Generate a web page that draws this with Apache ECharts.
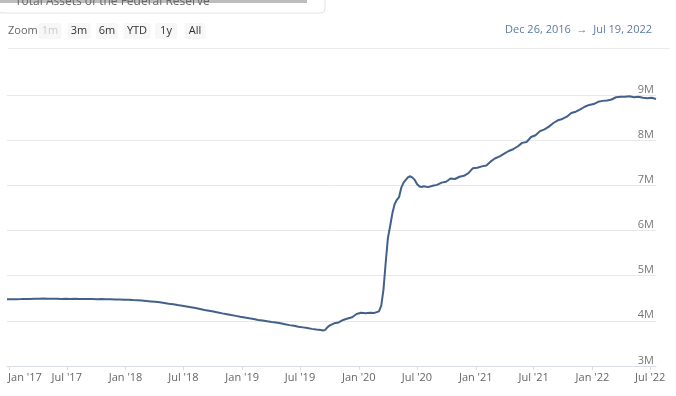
<!DOCTYPE html>
<html>
<head>
<meta charset="utf-8">
<script src="https://cdn.jsdelivr.net/npm/echarts@6/dist/echarts.min.js"></script>
<style>
html,body{margin:0;padding:0;background:#fff;}
#c{width:676px;height:396px;}
</style>
</head>
<body>
<div id="c"></div>
<script>
// Total assets of the Federal Reserve (millions of USD)
const dates = [
'2016-12-26','2017-01-11','2017-01-25','2017-02-08','2017-02-22','2017-03-08','2017-03-22','2017-04-05','2017-04-19','2017-05-03',
'2017-05-17','2017-05-31','2017-06-14','2017-06-28','2017-07-12','2017-07-26','2017-08-09','2017-08-23','2017-09-06','2017-09-20',
'2017-10-04','2017-10-18','2017-11-01','2017-11-15','2017-11-29','2017-12-13','2017-12-27','2018-01-10','2018-01-24','2018-02-07',
'2018-02-21','2018-03-07','2018-03-21','2018-04-04','2018-04-18','2018-05-02','2018-05-16','2018-05-30','2018-06-13','2018-06-27',
'2018-07-11','2018-07-25','2018-08-08','2018-08-22','2018-09-05','2018-09-19','2018-10-03','2018-10-17','2018-10-31','2018-11-14',
'2018-11-28','2018-12-12','2018-12-26','2019-01-09','2019-01-23','2019-02-06','2019-02-20','2019-03-06','2019-03-20','2019-04-03',
'2019-04-17','2019-05-01','2019-05-15','2019-05-29','2019-06-12','2019-06-26','2019-07-10','2019-07-24','2019-08-07','2019-08-21',
'2019-09-04','2019-09-11','2019-09-18','2019-09-25','2019-10-02','2019-10-16','2019-10-30','2019-11-13','2019-11-27','2019-12-11',
'2019-12-25','2020-01-08','2020-01-22','2020-02-05','2020-02-19','2020-03-04','2020-03-11','2020-03-18','2020-03-25','2020-04-01',
'2020-04-08','2020-04-15','2020-04-22','2020-04-29','2020-05-06','2020-05-13','2020-05-20','2020-05-27','2020-06-03','2020-06-10',
'2020-06-17','2020-06-24','2020-07-01','2020-07-08','2020-07-15','2020-07-22','2020-08-05','2020-08-19','2020-09-02','2020-09-16',
'2020-09-30','2020-10-14','2020-10-28','2020-11-11','2020-11-25','2020-12-09','2020-12-23','2021-01-06','2021-01-20','2021-02-03',
'2021-02-17','2021-03-03','2021-03-17','2021-03-31','2021-04-14','2021-04-28','2021-05-12','2021-05-26','2021-06-09','2021-06-23',
'2021-07-07','2021-07-21','2021-08-04','2021-08-18','2021-09-01','2021-09-15','2021-09-29','2021-10-13','2021-10-27','2021-11-10',
'2021-11-24','2021-12-08','2021-12-22','2022-01-05','2022-01-19','2022-02-02','2022-02-16','2022-03-02','2022-03-16','2022-03-30',
'2022-04-13','2022-04-27','2022-05-11','2022-05-25','2022-06-08','2022-06-22','2022-07-06','2022-07-19'
];
const assets = [
4478000,4476000,4480000,4482000,4485000,4484000,4488000,4490000,4492000,4490000,
4488000,4491000,4486000,4489000,4485000,4488000,4484000,4486000,4483000,4485000,
4480000,4482000,4477000,4478000,4474000,4472000,4468000,4466000,4460000,4455000,
4450000,4440000,4430000,4420000,4410000,4395000,4380000,4366000,4350000,4335000,
4318000,4300000,4282000,4262000,4242000,4225000,4205000,4185000,4165000,4148000,
4128000,4110000,4092000,4075000,4058000,4042000,4020000,4005000,3990000,3975000,
3962000,3945000,3925000,3905000,3890000,3870000,3855000,3840000,3822000,3808000,
3795000,3785000,3800000,3860000,3900000,3945000,3965000,4020000,4050000,4080000,
4150000,4180000,4170000,4180000,4175000,4210000,4330000,4680000,5280000,5830000,
6100000,6380000,6580000,6680000,6740000,6950000,7060000,7120000,7180000,7200000,
7170000,7120000,7030000,6980000,6960000,6980000,6960000,6990000,7010000,7060000,
7080000,7150000,7140000,7190000,7210000,7270000,7380000,7390000,7420000,7440000,
7530000,7600000,7640000,7700000,7760000,7800000,7860000,7940000,7960000,8070000,
8110000,8200000,8240000,8300000,8380000,8440000,8470000,8520000,8600000,8630000,
8680000,8740000,8780000,8800000,8850000,8870000,8880000,8900000,8950000,8960000,
8960000,8970000,8950000,8960000,8940000,8930000,8940000,8910000
];
const yTicks = [3000000, 9000000];
const zoomButtons = ['1m','3m','6m','YTD','1y','All'];
const rangeText = 'Dec 26, 2016  \u2192  Jul 19, 2022';
const titleText = 'Total Assets of the Federal Reserve';

const seriesData = dates.map((d, i) => [d, assets[i]]);
const months = ['Jan','Feb','Mar','Apr','May','Jun','Jul','Aug','Sep','Oct','Nov','Dec'];
const DAY = 86400000;

const btnX = [50, 79, 107, 137, 166, 195];
const btnW = [23, 23, 22, 27, 22, 21];
const graphics = [
  {type:'rect', shape:{x:-2, y:-10, width:327, height:23, r:4}, style:{fill:'#fff', stroke:'#e2e2e2', lineWidth:1}},
  {type:'rect', shape:{x:0, y:0, width:307, height:3}, style:{fill:'#bdbdbd'}},
  {type:'text', x:15, y:2, style:{text:titleText, fill:'#666', font:'12px "Open Sans", sans-serif', textVerticalAlign:'middle'}},
  {type:'text', x:8, y:31, style:{text:'Zoom', fill:'#666', font:'11px "Open Sans", sans-serif', textVerticalAlign:'middle'}},
  {type:'line', shape:{x1:8, y1:48.5, x2:670, y2:48.5}, style:{stroke:'#ececec', lineWidth:1}},
  {type:'text', x:652, y:30, style:{text:rangeText, fill:'#5b7aa3', font:'11px "Open Sans", sans-serif', textAlign:'right', textVerticalAlign:'middle'}}
];
zoomButtons.forEach((b, i) => {
  graphics.push({type:'rect', shape:{x:btnX[i]-btnW[i]/2, y:23, width:btnW[i], height:16, r:2}, style:{fill:'#f7f7f7'}});
  graphics.push({type:'text', x:btnX[i], y:31, style:{text:b, fill: i===0 ? '#cccccc' : '#333', font:'11px "Open Sans", sans-serif', textAlign:'center', textVerticalAlign:'middle'}});
});

const chart = echarts.init(document.getElementById('c'), null, {renderer:'canvas'});
chart.setOption({
  animation:false,
  backgroundColor:'#fff',
  graphic: graphics,
  grid:{left:7, right:20, top:95, bottom:30, containLabel:false},
  xAxis:{
    type:'time',
    min: new Date(2016,11,26).getTime(),
    max: new Date(2022,6,19).getTime(),
    minInterval: 181*DAY,
    maxInterval: 184*DAY,
    axisLine:{show:true, lineStyle:{color:'#d9dde5', width:1}},
    axisTick:{show:true, length:4, lineStyle:{color:'#d9dde5'}},
    splitLine:{show:false},
    axisLabel:{
      color:'#666', fontSize:11, fontFamily:'"Open Sans", sans-serif', margin:6,
      showMinLabel:false, showMaxLabel:false,
      formatter: function(v){
        const d = new Date(v);
        const s = months[d.getMonth()] + " '" + String(d.getFullYear()).slice(2);
        if (d.getFullYear()===2017 && d.getMonth()===0) return '{a|' + s + '}';
        return s;
      },
      rich:{a:{color:'#666', fontSize:11, fontFamily:'"Open Sans", sans-serif', padding:[0,0,0,32]}}
    }
  },
  yAxis:{
    type:'value',
    position:'right',
    min: yTicks[0], max: yTicks[1], interval:1000000,
    axisLine:{show:false}, axisTick:{show:false},
    splitLine:{lineStyle:{color:'#e8e8e8', width:1}},
    axisLabel:{
      inside:true, margin:2, color:'#777', fontSize:11, fontFamily:'"Open Sans", sans-serif',
      verticalAlign:'bottom', align:'right',
      formatter: v => (v/1000000) + 'M'
    }
  },
  series:[{
    type:'line',
    data: seriesData,
    showSymbol:false,
    smooth:false,
    lineStyle:{color:'#42618a', width:2},
    itemStyle:{color:'#42618a'}
  }]
});
</script>
</body>
</html>
